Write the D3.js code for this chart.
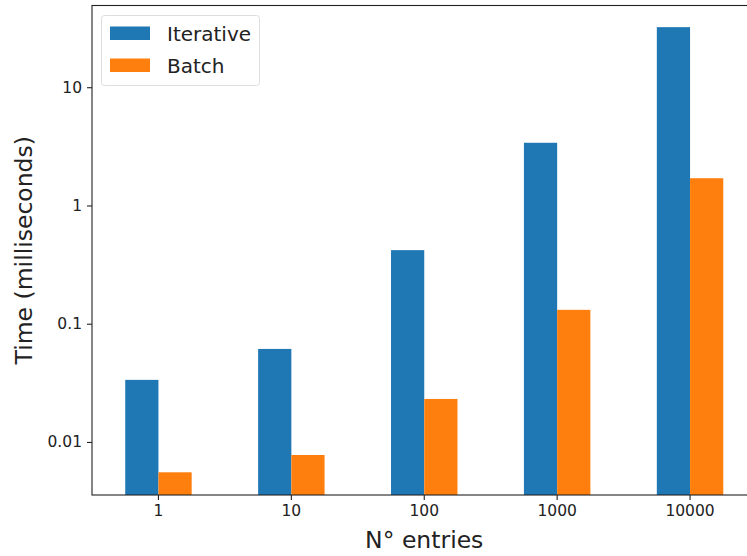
<!DOCTYPE html>
<html>
<head>
<meta charset="utf-8">
<script src="https://cdn.jsdelivr.net/npm/d3@7"></script>
<style>
  body { margin: 0; background: #fff; }
  svg { display: block; font-family: "DejaVu Sans", sans-serif; }
</style>
</head>
<body>
<div class="chart"></div>
<script>
// data
var entries = ["1", "10", "100", "1000", "10000"];
var seriesNames = ["Iterative", "Batch"];
var iterative = [0.0335, 0.0612, 0.419, 3.39, 32.2];
var batch = [0.00554, 0.00776, 0.0231, 0.131, 1.70];
var yTicks = [0.01, 0.1, 1, 10];
var yTickLabels = ["0.01", "0.1", "1", "10"];
var colors = ["#1f77b4", "#ff7f0e"];

var svgWidth = 747;
var svgHeight = 556;

// plot area (right side runs past the picture edge, as in the reference)
var margin = { top: 5.5, left: 92 };
var plotRight = 756.5;
var plotBottom = 495;

var svg = d3.select(".chart")
    .append("svg")
    .attr("width", svgWidth)
    .attr("height", svgHeight);

var x0 = d3.scaleBand()
    .domain(entries)
    .range([margin.left, plotRight])
    .paddingInner(0.5)
    .paddingOuter(0.25);

var x1 = d3.scaleBand()
    .domain(seriesNames)
    .range([0, x0.bandwidth()]);

var y = d3.scaleLog()
    .domain([0.00356, 49.1])
    .range([plotBottom, margin.top]);

var rows = entries.map(function(e, i) {
  return { entry: e, values: [iterative[i], batch[i]] };
});

// bars
var groups = svg.append("g")
    .selectAll("g")
    .data(rows)
    .enter()
    .append("g")
    .attr("transform", d => `translate(${x0(d.entry)},0)`);

groups.selectAll("rect")
    .data(d => d.values.map((v, j) => ({ name: seriesNames[j], value: v, j: j })))
    .enter()
    .append("rect")
    .attr("x", d => x1(d.name))
    .attr("y", d => y(d.value))
    .attr("width", x1.bandwidth())
    .attr("height", d => plotBottom - y(d.value))
    .attr("fill", d => colors[d.j]);

// axes
var bottomAxis = d3.axisBottom(x0).tickSize(5).tickPadding(5);
var leftAxis = d3.axisLeft(y).tickValues(yTicks)
    .tickFormat((d, i) => yTickLabels[i]).tickSize(5).tickPadding(5);

var xAxis = svg.append("g")
    .attr("transform", `translate(0, ${plotBottom})`)
    .call(bottomAxis);

var yAxis = svg.append("g")
    .attr("transform", `translate(${margin.left}, 0)`)
    .call(leftAxis);

[xAxis, yAxis].forEach(function(a) {
  a.select(".domain").remove();
  a.selectAll("line").attr("stroke", "#222").attr("stroke-width", 1.1);
  a.selectAll("text").attr("fill", "#222")
      .style("font-family", "DejaVu Sans").style("font-size", "15.5px");
});

// frame
svg.append("rect")
    .attr("x", margin.left)
    .attr("y", margin.top)
    .attr("width", plotRight - margin.left)
    .attr("height", plotBottom - margin.top)
    .attr("fill", "none")
    .attr("stroke", "#222")
    .attr("stroke-width", 1.1);

// axis titles
svg.append("text")
    .attr("x", (margin.left + plotRight) / 2)
    .attr("y", 548)
    .attr("text-anchor", "middle")
    .style("font-size", "23.5px")
    .attr("fill", "#222")
    .text("N° entries");

svg.append("text")
    .attr("transform", "rotate(-90)")
    .attr("x", -(margin.top + plotBottom) / 2)
    .attr("y", 32)
    .attr("text-anchor", "middle")
    .style("font-size", "23.5px")
    .attr("fill", "#222")
    .text("Time (milliseconds)");

// legend
var legend = svg.append("g");
legend.append("rect")
    .attr("x", 101.5)
    .attr("y", 15.5)
    .attr("width", 158)
    .attr("height", 70)
    .attr("rx", 3)
    .attr("fill", "#fff")
    .attr("fill-opacity", 0.8)
    .attr("stroke", "#ddd");

seriesNames.forEach(function(name, i) {
  var ly = 26.5 + i * 32;
  legend.append("rect")
      .attr("x", 110)
      .attr("y", ly)
      .attr("width", 40)
      .attr("height", 13.5)
      .attr("fill", colors[i]);
  legend.append("text")
      .attr("x", 167)
      .attr("y", ly + 14)
      .style("font-size", "20px")
      .attr("fill", "#222")
      .text(name);
});
</script>
</body>
</html>
